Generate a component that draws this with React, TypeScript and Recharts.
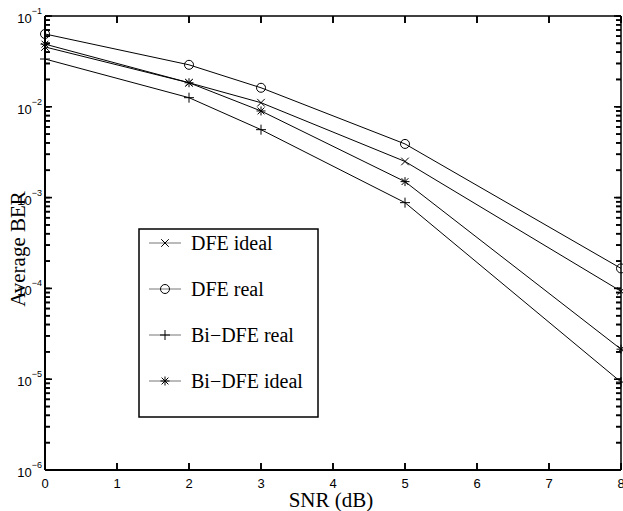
import React from "react";
import { LineChart, Line, XAxis, YAxis, Label } from "recharts";

// ---- data ----
const snrValues = [0, 2, 3, 5, 8];
const dfeIdeal = [0.0456, 0.0184, 0.0111, 0.0025, 9.3e-5];
const dfeReal = [0.0634, 0.029, 0.0162, 0.0039, 1.66e-4];
const biDfeReal = [0.0336, 0.0126, 0.0056, 8.8e-4, 9.3e-6];
const biDfeIdeal = [0.049, 0.0184, 0.009, 0.0015, 2.14e-5];

const xTicks = [0, 1, 2, 3, 4, 5, 6, 7, 8];
const yMajorTicks = [1e-6, 1e-5, 1e-4, 1e-3, 1e-2, 1e-1];
const yMajorLabels = ["−6", "−5", "−4", "−3", "−2", "−1"];
const minorMultipliers = [2, 3, 4, 5, 6, 7, 8, 9];

const yAllTicks: number[] = [];
yMajorTicks.forEach((d, i) => {
  yAllTicks.push(d);
  if (i < yMajorTicks.length - 1) minorMultipliers.forEach((m) => yAllTicks.push(d * m));
});

const seriesDefs = [
  { key: "dfeIdeal", name: "DFE ideal", marker: "x", values: dfeIdeal },
  { key: "dfeReal", name: "DFE real", marker: "o", values: dfeReal },
  { key: "biDfeReal", name: "Bi−DFE real", marker: "+", values: biDfeReal },
  { key: "biDfeIdeal", name: "Bi−DFE ideal", marker: "*", values: biDfeIdeal },
];

const data = snrValues.map((s, i) => {
  const row: Record<string, number> = { snr: s };
  seriesDefs.forEach((d) => (row[d.key] = d.values[i]));
  return row;
});

const SANS = "'Liberation Sans', Arial, Helvetica, sans-serif";
const SERIF = "'Liberation Serif', 'Times New Roman', Times, serif";
const TICK_LEN = 7;
const MINOR_LEN = 5;
const TICK_COLOR = "#000";
const TICK_W = 1.6;

function Marker({ cx, cy, shape, stroke = "#000" }: { cx: number; cy: number; shape: string; stroke?: string }) {
  if (cx == null || cy == null || isNaN(cx) || isNaN(cy)) return null;
  const sw = 1;
  if (shape === "o") {
    return <circle cx={cx} cy={cy} r={4.5} fill="none" stroke={stroke} strokeWidth={sw} />;
  }
  if (shape === "x") {
    const h = 3.8;
    return (
      <g stroke={stroke} strokeWidth={sw}>
        <line x1={cx - h} y1={cy - h} x2={cx + h} y2={cy + h} />
        <line x1={cx - h} y1={cy + h} x2={cx + h} y2={cy - h} />
      </g>
    );
  }
  if (shape === "+") {
    const h = 5;
    return (
      <g stroke={stroke} strokeWidth={sw}>
        <line x1={cx - h} y1={cy} x2={cx + h} y2={cy} />
        <line x1={cx} y1={cy - h} x2={cx} y2={cy + h} />
      </g>
    );
  }
  const h = 4.5;
  const d = 3.4;
  return (
    <g stroke={stroke} strokeWidth={sw}>
      <line x1={cx - h} y1={cy} x2={cx + h} y2={cy} />
      <line x1={cx} y1={cy - h} x2={cx} y2={cy + h} />
      <line x1={cx - d} y1={cy - d} x2={cx + d} y2={cy + d} />
      <line x1={cx - d} y1={cy + d} x2={cx + d} y2={cy - d} />
    </g>
  );
}

const majorIndex = (v: number) => yMajorTicks.findIndex((t) => Math.abs(Math.log10(t) - Math.log10(v)) < 1e-6);

function LeftTick(props: any) {
  const x = Number(props.x);
  const y = Number(props.y);
  const idx = majorIndex(Number(props.payload.value));
  const len = idx >= 0 ? TICK_LEN : MINOR_LEN;
  return (
    <g>
      <line x1={x} y1={y} x2={x + len} y2={y} stroke={TICK_COLOR} strokeWidth={TICK_W} />
      {idx >= 0 && (
        <text x={x - 3} y={y + 7} textAnchor="end" fontFamily={SANS} fill="#000">
          <tspan fontSize={13}>10</tspan>
          <tspan fontSize={9} dy={-9}>{yMajorLabels[idx]}</tspan>
        </text>
      )}
    </g>
  );
}

function RightTick(props: any) {
  const x = Number(props.x);
  const y = Number(props.y);
  const len = majorIndex(Number(props.payload.value)) >= 0 ? TICK_LEN : MINOR_LEN;
  return <line x1={x} y1={y} x2={x - len} y2={y} stroke={TICK_COLOR} strokeWidth={TICK_W} />;
}

function BottomTick(props: any) {
  const x = Number(props.x);
  const y = Number(props.y);
  return (
    <g>
      <line x1={x} y1={y} x2={x} y2={y - TICK_LEN} stroke={TICK_COLOR} strokeWidth={TICK_W} />
      <text x={x} y={y + 18} textAnchor="middle" fontFamily={SANS} fontSize={13} fill="#000">
        {props.payload.value}
      </text>
    </g>
  );
}

function TopTick(props: any) {
  const x = Number(props.x);
  const y = Number(props.y);
  return <line x1={x} y1={y} x2={x} y2={y + TICK_LEN} stroke={TICK_COLOR} strokeWidth={TICK_W} />;
}

const makeDot = (shape: string) => (props: any) => (
  <Marker key={`${shape}-${props.index}`} cx={props.cx} cy={props.cy} shape={shape} />
);

const tickLineStyle = { stroke: TICK_COLOR, strokeWidth: TICK_W };

export default function App() {
  const legendX = 139;
  const legendY = 229;
  return (
    <div style={{ position: "absolute", left: 0, top: 0, width: 623, height: 511, background: "#fff" }}>
      <LineChart width={623} height={511} data={data} margin={{ top: 15, right: 1, bottom: 0, left: 0 }}>
        <XAxis
          dataKey="snr"
          type="number"
          domain={[0, 8]}
          ticks={xTicks}
          interval={0}
          height={41}
          tickSize={-TICK_LEN}
          tickMargin={TICK_LEN}
          tickLine={tickLineStyle}
          axisLine={{ stroke: "#000", strokeWidth: 2 }}
          tick={<BottomTick />}
        >
          <Label
            content={(p: any) => {
              const vb = p.viewBox;
              return (
                <text x={vb.x + vb.width / 2 - 2} y={vb.y + 37} textAnchor="middle" fontFamily={SERIF} fontSize={21} fill="#000">
                  SNR (dB)
                </text>
              );
            }}
          />
        </XAxis>
        <XAxis
          xAxisId="top"
          orientation="top"
          dataKey="snr"
          type="number"
          domain={[0, 8]}
          ticks={xTicks}
          interval={0}
          height={1}
          tickSize={-TICK_LEN}
          tickMargin={TICK_LEN}
          tickLine={tickLineStyle}
          axisLine={{ stroke: "#000", strokeWidth: 1.5 }}
          tick={<TopTick />}
        />
        <YAxis
          scale="log"
          domain={[1e-6, 1e-1]}
          ticks={yAllTicks}
          interval={0}
          allowDataOverflow
          width={45}
          tickSize={-MINOR_LEN}
          tickMargin={MINOR_LEN}
          tickLine={tickLineStyle}
          axisLine={{ stroke: "#000", strokeWidth: 2 }}
          tick={<LeftTick />}
        >
          <Label
            content={(p: any) => {
              const vb = p.viewBox;
              const cx = 18;
              const cy = vb.y + vb.height / 2 + 6;
              return (
                <text
                  x={cx}
                  y={cy}
                  transform={`rotate(-90 ${cx} ${cy})`}
                  textAnchor="middle"
                  dominantBaseline="central"
                  fontFamily={SERIF}
                  fontSize={21}
                  fill="#000"
                >
                  Average BER
                </text>
              );
            }}
          />
        </YAxis>
        <YAxis
          yAxisId="right"
          orientation="right"
          scale="log"
          domain={[1e-6, 1e-1]}
          ticks={yAllTicks}
          interval={0}
          allowDataOverflow
          width={1}
          tickSize={-MINOR_LEN}
          tickMargin={MINOR_LEN}
          tickLine={tickLineStyle}
          axisLine={{ stroke: "#000", strokeWidth: 1.5 }}
          tick={<RightTick />}
        />
        {seriesDefs.map((s) => (
          <Line
            key={s.key}
            type="linear"
            dataKey={s.key}
            name={s.name}
            stroke="#000"
            strokeWidth={1}
            dot={makeDot(s.marker)}
            activeDot={false}
            isAnimationActive={false}
          />
        ))}
      </LineChart>
      <svg width={623} height={511} style={{ position: "absolute", left: 0, top: 0, pointerEvents: "none" }}>
        <rect x={legendX} y={legendY} width={179} height={188} fill="#fff" stroke="#000" strokeWidth={1.5} />
        {seriesDefs.map((s, i) => {
          const cy = legendY + 14 + i * 46;
          return (
            <g key={s.key}>
              <line x1={149} y1={cy} x2={181} y2={cy} stroke="#777" strokeWidth={1} />
              <Marker cx={165} cy={cy} shape={s.marker} />
              <text x={191} y={cy + 7} fontFamily={SERIF} fontSize={20} fill="#000">
                {s.name}
              </text>
            </g>
          );
        })}
      </svg>
    </div>
  );
}
